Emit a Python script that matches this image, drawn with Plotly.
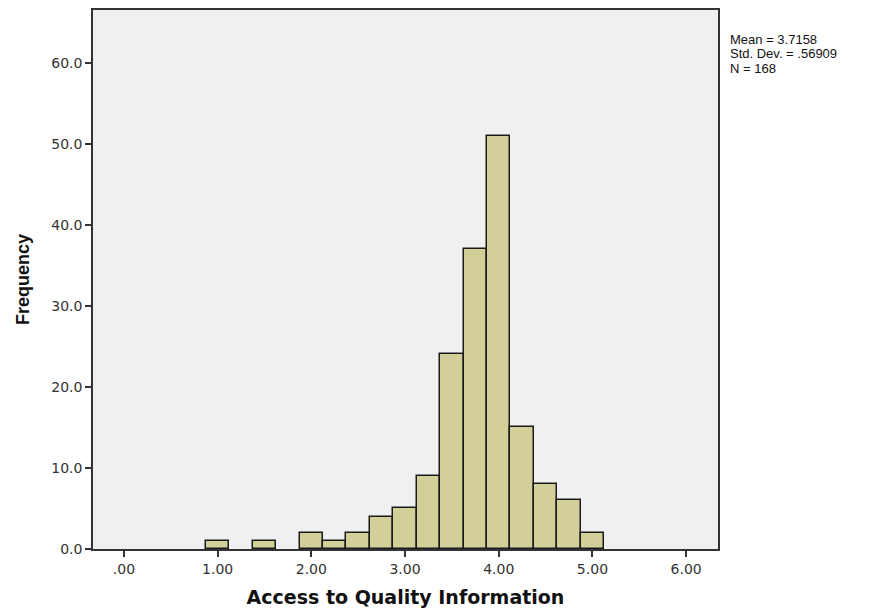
import plotly.graph_objects as go

bin_centers = [1.0, 1.5, 2.0, 2.25, 2.5, 2.75, 3.0, 3.25, 3.5, 3.75, 4.0, 4.25, 4.5, 4.75, 5.0]
frequencies = [1, 1, 2, 1, 2, 4, 5, 9, 24, 37, 51, 15, 8, 6, 2]
bin_width = 0.25

x_tick_vals = [0, 1, 2, 3, 4, 5, 6]
x_tick_text = [".00", "1.00", "2.00", "3.00", "4.00", "5.00", "6.00"]
y_tick_vals = [0, 10, 20, 30, 40, 50, 60]
y_tick_text = ["0.0", "10.0", "20.0", "30.0", "40.0", "50.0", "60.0"]

stats_lines = ["Mean = 3.7158", "Std. Dev. = .56909", "N = 168"]

fig = go.Figure()
fig.add_trace(go.Bar(
    x=bin_centers, y=frequencies, width=bin_width,
    marker=dict(color="#d3cf99", line=dict(color="#1a1a1a", width=1.5)),
    showlegend=False,
))

axis_font = dict(family="DejaVu Sans, sans-serif", size=14, color="#333333")
fig.update_layout(
    width=872, height=610,
    margin=dict(l=93, r=154, t=10, b=61),
    paper_bgcolor="white",
    plot_bgcolor="#f0f0f0",
    bargap=0,
    xaxis=dict(
        range=[-0.33, 6.34], tickvals=x_tick_vals, ticktext=x_tick_text,
        ticks="outside", ticklen=6, tickwidth=1.5, tickcolor="#333333",
        showline=True, linecolor="#333333", linewidth=1.5, mirror=True,
        showgrid=False, zeroline=False, tickfont=axis_font, automargin=False,
        title=dict(text="<b>Access to Quality Information</b>",
                   font=dict(family="DejaVu Sans, sans-serif", size=19, color="#111111"),
                   standoff=15),
    ),
    yaxis=dict(
        range=[0, 66.5], tickvals=y_tick_vals, ticktext=y_tick_text,
        ticks="outside", ticklen=6, tickwidth=1.5, tickcolor="#333333",
        showline=True, linecolor="#333333", linewidth=1.5, mirror=True,
        showgrid=False, zeroline=False, tickfont=axis_font, automargin=False,
        title=dict(text="<b>Frequency</b>",
                   font=dict(family="Liberation Sans, Arial, sans-serif", size=18, color="#111111"),
                   standoff=17),
    ),
)

line_centers_px = [40, 54, 68]
for txt, p in zip(stats_lines, line_centers_px):
    fig.add_annotation(
        text=txt, xref="paper", yref="paper", x=1.0, y=(549 - p) / 539,
        xanchor="left", yanchor="middle", xshift=10, showarrow=False, align="left",
        font=dict(family="Liberation Sans, Arial, sans-serif", size=13, color="#111111"),
    )

fig.write_html("out.html")
